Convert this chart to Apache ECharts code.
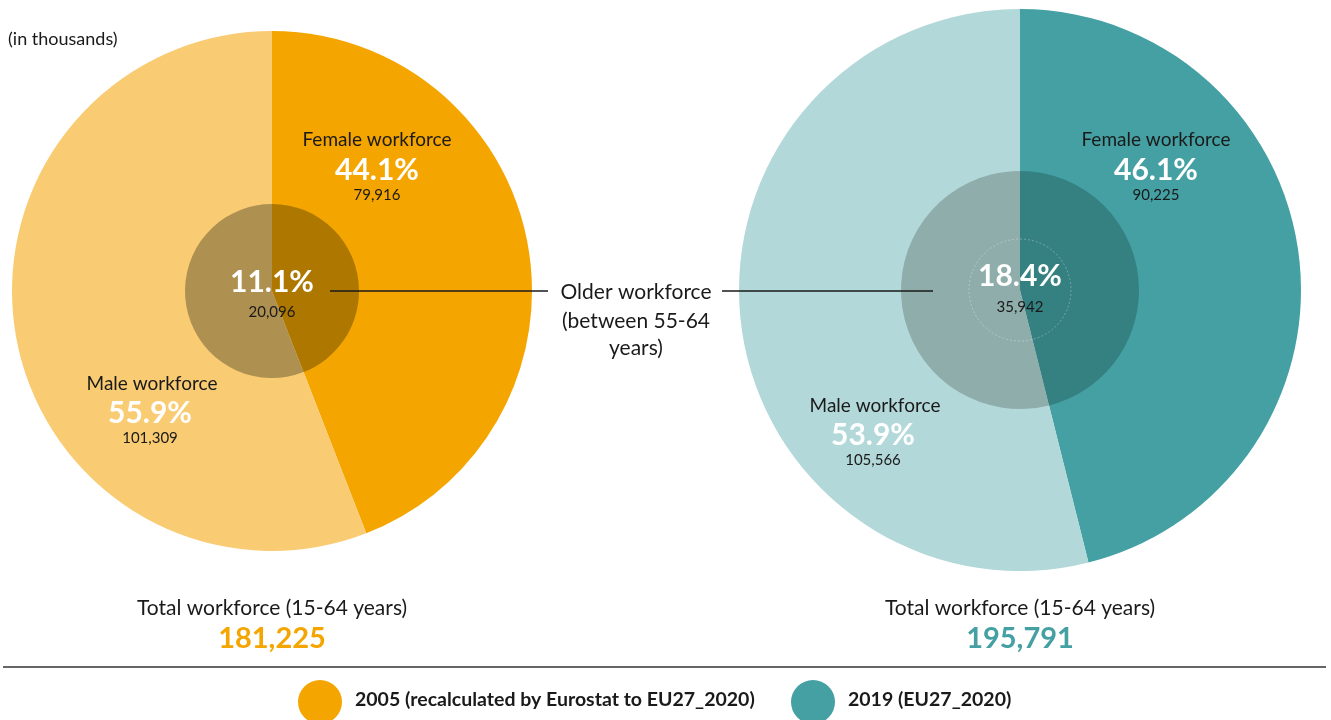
<!DOCTYPE html>
<html><head><meta charset="utf-8">
<script src="https://cdn.jsdelivr.net/npm/echarts@6/dist/echarts.min.js"></script>
<style>html,body{margin:0;padding:0;background:#fff}#c{width:1331px;height:720px}</style>
</head><body><div id="c"></div>
<script>
const years = ['2005 (recalculated by Eurostat to EU27_2020)', '2019 (EU27_2020)'];
const groups = ['Female workforce', 'Male workforce'];
const female = [79916, 90225];
const male = [101309, 105566];
const femalePct = ['44.1%', '46.1%'];
const malePct = ['55.9%', '53.9%'];
const older = [20096, 35942];
const olderPct = ['11.1%', '18.4%'];
const totals = [181225, 195791];

const F = 'Lato, "Open Sans", sans-serif';
const fmt = v => v.toLocaleString('en-US');
const outerCol = [['#f5a500', '#f9cb72'], ['#44a0a3', '#b3d8d9']];
const innerCol = [['#ad7700', '#ae9150'], ['#358080', '#8fadab']];
const mainCol = ['#f5a500', '#44a0a3'];
const centers = [[272, 291], [1020, 290]];
const radii = [260, 281];
const innerR = [87, 119];

const series = [];
for (let i = 0; i < 2; i++) {
  series.push({
    type: 'pie', center: centers[i], radius: [0, radii[i]], startAngle: 90, clockwise: true,
    silent: true, label: {show: false}, labelLine: {show: false}, animation: false,
    data: [{name: groups[0], value: female[i], itemStyle: {color: outerCol[i][0]}},
           {name: groups[1], value: male[i], itemStyle: {color: outerCol[i][1]}}]
  });
  series.push({
    type: 'pie', center: centers[i], radius: [0, innerR[i]], startAngle: 90, clockwise: true,
    silent: true, label: {show: false}, labelLine: {show: false}, animation: false, z: 3,
    data: [{name: groups[0], value: female[i], itemStyle: {color: innerCol[i][0]}},
           {name: groups[1], value: male[i], itemStyle: {color: innerCol[i][1]}}]
  });
}

const g = [];
const txt = (x, y, t, size, color, weight, align) => g.push({
  type: 'text', x, y, z: 10,
  style: {text: t, font: (weight || 'normal') + ' ' + size + 'px ' + F, fill: color,
          align: align || 'center', verticalAlign: 'middle'}
});
// labels
const fPos = [[377, 140], [1156, 140]];
const mPos = [[152, 384], [875, 406]];
for (let i = 0; i < 2; i++) {
  txt(fPos[i][0], fPos[i][1], groups[0], 19, '#1a1a1a');
  txt(fPos[i][0], fPos[i][1] + 30, femalePct[i], 30, '#fff', 'bold');
  txt(fPos[i][0], fPos[i][1] + 55, fmt(female[i]), 15, '#1a1a1a');
  txt(mPos[i][0], mPos[i][1], groups[1], 19, '#1a1a1a');
  txt(mPos[i][0] - 2, mPos[i][1] + 29, malePct[i], 30, '#fff', 'bold');
  txt(mPos[i][0] - 2, mPos[i][1] + 54, fmt(male[i]), 15, '#1a1a1a');
  txt(centers[i][0], centers[i][1] - 9 + (i ? -5 : 0), olderPct[i], 30, '#fff', 'bold');
  txt(centers[i][0], centers[i][1] + 21 + (i ? -4 : 0), fmt(older[i]), 15, '#1a1a1a');
  txt(centers[i][0], 608, 'Total workforce (15-64 years)', 21, '#1a1a1a');
  txt(centers[i][0], 639, fmt(totals[i]), 29, mainCol[i], 'bold');
}
// faint ring in right inner
g.push({type: 'circle', z: 9, shape: {cx: 1020, cy: 290, r: 51},
  style: {fill: 'none', stroke: 'rgba(255,255,255,0.3)', lineWidth: 1, lineDash: [2, 2]}});
// older workforce annotation
g.push({type: 'line', z: 10, shape: {x1: 330, y1: 291, x2: 548, y2: 291}, style: {stroke: '#1a1a1a', lineWidth: 1.3}});
g.push({type: 'line', z: 10, shape: {x1: 722, y1: 291, x2: 933, y2: 291}, style: {stroke: '#1a1a1a', lineWidth: 1.3}});
txt(636, 292, 'Older workforce', 21, '#1a1a1a');
txt(636, 321, '(between 55-64', 21, '#1a1a1a');
txt(636, 348, 'years)', 21, '#1a1a1a');
txt(8, 39, '(in thousands)', 18, '#1a1a1a', 'normal', 'left');
// separator
g.push({type: 'line', z: 10, shape: {x1: 3, y1: 667, x2: 1326, y2: 667}, style: {stroke: '#333', lineWidth: 1.5}});
// legend
const legX = [320, 813];
const legT = [355, 848];
for (let i = 0; i < 2; i++) {
  g.push({type: 'circle', z: 10, shape: {cx: legX[i], cy: 702, r: 22}, style: {fill: mainCol[i]}});
  txt(legT[i], 700, years[i], 19.5, '#1a1a1a', 'bold', 'left');
}

const chart = echarts.init(document.getElementById('c'));
chart.setOption({animation: false, series, graphic: g});
</script></body></html>
